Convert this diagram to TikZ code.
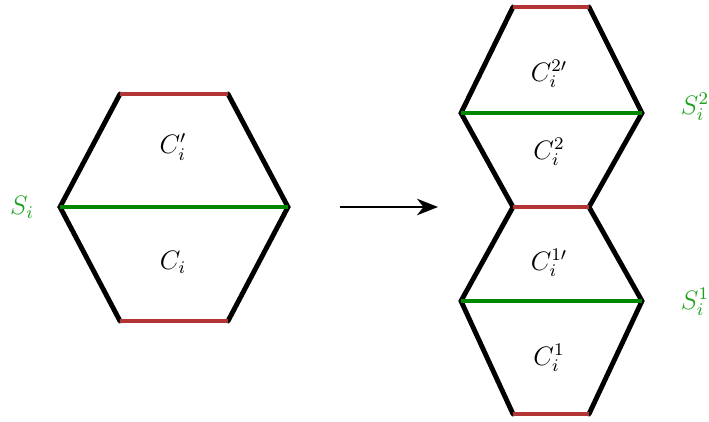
\documentclass[tikz,border=0pt]{standalone}
\usepackage{amsmath, amsfonts, amssymb}
\usetikzlibrary{arrows.meta, positioning}

\definecolor{cutred}{RGB}{178,52,52}
\definecolor{sepgreen}{RGB}{0,135,0}
\definecolor{labgreen}{RGB}{30,160,30}

\begin{document}
\begin{tikzpicture}[
        x=0.45pt, y=-0.45pt,
        side/.style={line width=2.2pt, line cap=round},
        cut/.style={line width=1.9pt, cutred},
        sep/.style={line width=2.2pt, sepgreen},
        cell/.style={inner sep=0pt, font=\large},
        seplabel/.style={inner sep=0pt, text=labgreen, font=\large},
        arrow/.style={-{Stealth[length=9.5pt, width=7.5pt, inset=3pt]}, semithick}
    ]
    \useasboundingbox (0,0) rectangle (709,422);

    % Left hexagon
    \coordinate (ltl) at (120,94);
    \coordinate (ltr) at (228,94);
    \coordinate (lr) at (288,207);
    \coordinate (lbr) at (228,321);
    \coordinate (lbl) at (120,321);
    \coordinate (ll) at (60,207);

    \draw[side] (ltl) -- (ll) -- (lbl);
    \draw[side] (ltr) -- (lr) -- (lbr);
    \draw[cut] (ltl) -- (ltr);
    \draw[cut] (lbl) -- (lbr);
    \draw[sep] (ll) -- (lr);

    \node[cell] (cip) at (173,147) {$C_i'$};
    \node[cell] (ci) at (173,262) {$C_i$};
    \node[seplabel] (si) at (22,207) {$S_i$};

    % Arrow
    \coordinate (arrs) at (340,207);
    \coordinate (arre) at (438,207);
    \draw[arrow] (arrs) -- (arre);

    % Right: upper hexagon
    \coordinate (utl) at (513,7);
    \coordinate (utr) at (589,7);
    \coordinate (ur) at (642,113);
    \coordinate (mr) at (589,207);
    \coordinate (ml) at (513,207);
    \coordinate (ul) at (461,113);

    % Right: lower hexagon
    \coordinate (dr) at (642,301);
    \coordinate (dbr) at (589,414);
    \coordinate (dbl) at (513,414);
    \coordinate (dl) at (461,301);

    \draw[side] (utl) -- (ul) -- (ml) -- (dl) -- (dbl);
    \draw[side] (utr) -- (ur) -- (mr) -- (dr) -- (dbr);
    \draw[cut] (utl) -- (utr);
    \draw[cut] (ml) -- (mr);
    \draw[cut] (dbl) -- (dbr);
    \draw[sep] (ul) -- (ur);
    \draw[sep] (dl) -- (dr);

    \node[cell] (c2p) at (549,74) {$C_i^{2\prime}$};
    \node[cell] (c2) at (549,152) {$C_i^2$};
    \node[cell] (c1p) at (549,263) {$C_i^{1\prime}$};
    \node[cell] (c1) at (549,358) {$C_i^1$};
    \node[seplabel] (s2) at (695,107) {$S_i^2$};
    \node[seplabel] (s1) at (695,302) {$S_i^1$};

\end{tikzpicture}
\end{document}
